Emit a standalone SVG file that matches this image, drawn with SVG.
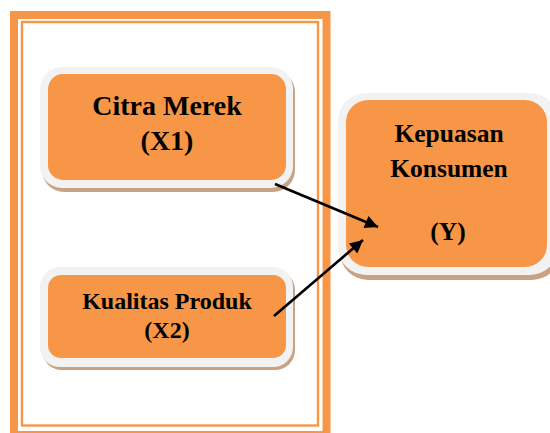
<svg xmlns="http://www.w3.org/2000/svg" width="550" height="433" viewBox="0 0 550 433">
<style>
.shadow{fill:#c9a283;}
.rim{fill:#f2f2f2;}
.body{fill:#f79646;}
.frame{fill:none;stroke:#f79646;}
.t{font-family:"Liberation Serif","Times New Roman",serif;font-weight:bold;fill:#000;text-anchor:middle;}
.conn{stroke:#000;stroke-width:2.6;fill:none;marker-end:url(#ah);}
</style>
<defs>
<marker id="ah" viewBox="0 0 10 10" refX="10" refY="5" markerWidth="6.5" markerHeight="5" markerUnits="strokeWidth" orient="auto">
<path d="M0,0 L10,5 L0,10 z" fill="#000"/>
</marker>
</defs>
<rect width="550" height="433" fill="#fff"/>
<g id="frame">
<rect class="frame" x="14" y="15" width="312.5" height="420" stroke-width="8"/>
<rect class="frame" x="22" y="22" width="296" height="403.5" stroke-width="2.4"/>
</g>
<g id="citra-merek">
<rect class="shadow" x="42" y="70" width="253" height="122" rx="22"/>
<rect class="rim" x="40" y="67" width="253" height="121" rx="22"/>
<rect class="body" x="48" y="74" width="238" height="106" rx="15"/>
<text class="t" x="167" y="115" font-size="28">Citra Merek</text>
<text class="t" x="167" y="150" font-size="28">(X1)</text>
</g>
<g id="kualitas-produk">
<rect class="shadow" x="42" y="270" width="253" height="100" rx="20"/>
<rect class="rim" x="40" y="267" width="253" height="100" rx="20"/>
<rect class="body" x="48" y="275" width="238" height="83" rx="13"/>
<text class="t" x="167" y="309" font-size="24">Kualitas Produk</text>
<text class="t" x="167" y="338" font-size="24">(X2)</text>
</g>
<g id="kepuasan-konsumen">
<rect class="shadow" x="340" y="96" width="220" height="184" rx="28"/>
<rect class="rim" x="338" y="93" width="220" height="182" rx="28"/>
<rect class="body" x="346" y="100" width="201" height="167" rx="22"/>
<text class="t" x="449" y="142" font-size="25.5">Kepuasan</text>
<text class="t" x="449" y="177" font-size="25.5">Konsumen</text>
<text class="t" x="448" y="240" font-size="25.5">(Y)</text>
</g>
<g id="connectors">
<line class="conn" x1="275" y1="184" x2="378" y2="227"/>
<line class="conn" x1="274" y1="316" x2="363" y2="240"/>
</g>
</svg>
